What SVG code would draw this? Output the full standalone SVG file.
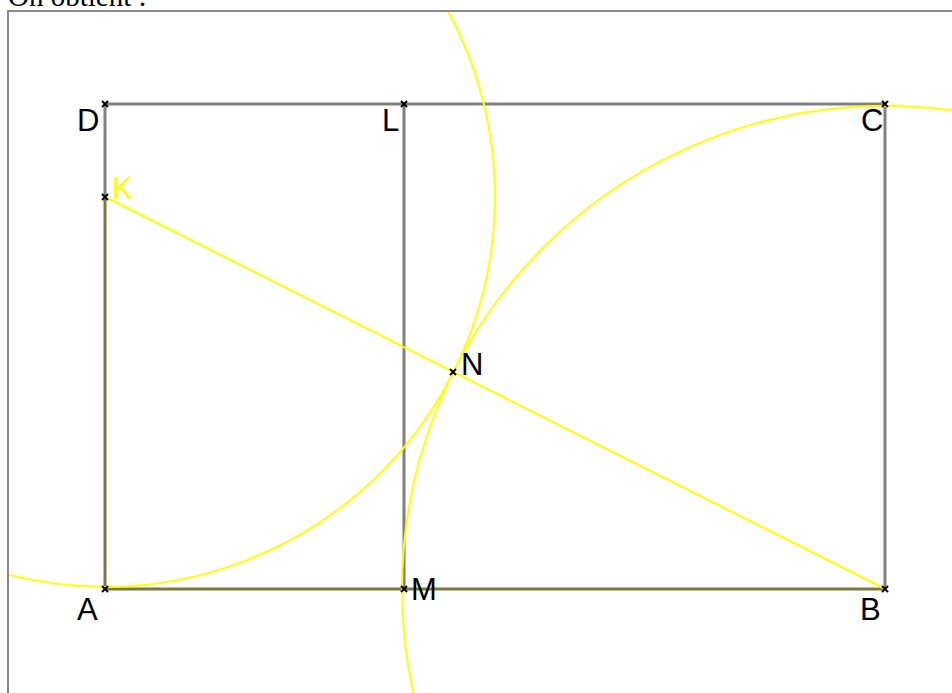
<svg xmlns="http://www.w3.org/2000/svg" width="952" height="693" viewBox="0 0 952 693">
<style>
.side{stroke:#808080;stroke-width:3;fill:none}
.olive{stroke:#7a7a3c;stroke-width:3;fill:none}
.yel{stroke:#ffff00;stroke-width:2;fill:none}
.pt{stroke:#000;stroke-width:2}
.lbl{font-family:"Liberation Sans",Arial,sans-serif;font-size:31px;fill:#000}
.title{font-family:"Liberation Serif","Times New Roman",serif;font-size:29px;fill:#000}
</style>
<defs>
<clipPath id="frame"><rect x="9" y="12" width="943" height="681"/></clipPath>
<g id="x"><path class="pt" d="M-3,-3 L3,3 M-3,3 L3,-3"/></g>
</defs>
<rect width="952" height="693" fill="#fff"/>
<text class="title" x="8" y="6">On obtient :</text>
<rect x="8" y="11" width="1000" height="1000" fill="none" stroke="#8a8a8a" stroke-width="2"/>
<g id="connectors" clip-path="url(#frame)">
<line class="side" x1="105" y1="104" x2="885" y2="104"/>
<line class="side" x1="885" y1="104" x2="885" y2="589"/>
<line class="side" x1="404" y1="104" x2="404" y2="589"/>
<line class="side" x1="105" y1="104" x2="105" y2="197"/>
<line class="olive" x1="105" y1="197" x2="105" y2="589"/>
<line class="olive" x1="105" y1="589" x2="885" y2="589"/>
<circle class="yel" cx="105" cy="197" r="390"/>
<circle class="yel" cx="885" cy="589" r="483"/>
<line class="yel" x1="105" y1="197" x2="885" y2="589"/>
</g>
<g id="A"><use href="#x" x="105" y="589"/><text class="lbl" x="77" y="620">A</text></g>
<g id="B"><use href="#x" x="885" y="589"/><text class="lbl" x="860" y="620">B</text></g>
<g id="C"><use href="#x" x="885" y="104"/><text class="lbl" x="861" y="131">C</text></g>
<g id="D"><use href="#x" x="105" y="104"/><text class="lbl" x="77" y="131">D</text></g>
<g id="L"><use href="#x" x="404" y="104"/><text class="lbl" x="382" y="131">L</text></g>
<g id="M"><use href="#x" x="404" y="589"/><text class="lbl" x="411" y="600">M</text></g>
<g id="N"><use href="#x" x="453" y="372"/><text class="lbl" x="461" y="375">N</text></g>
<g id="K"><use href="#x" x="105" y="197"/><text class="lbl" x="112" y="199" style="fill:#ffff00">K</text></g>
</svg>
